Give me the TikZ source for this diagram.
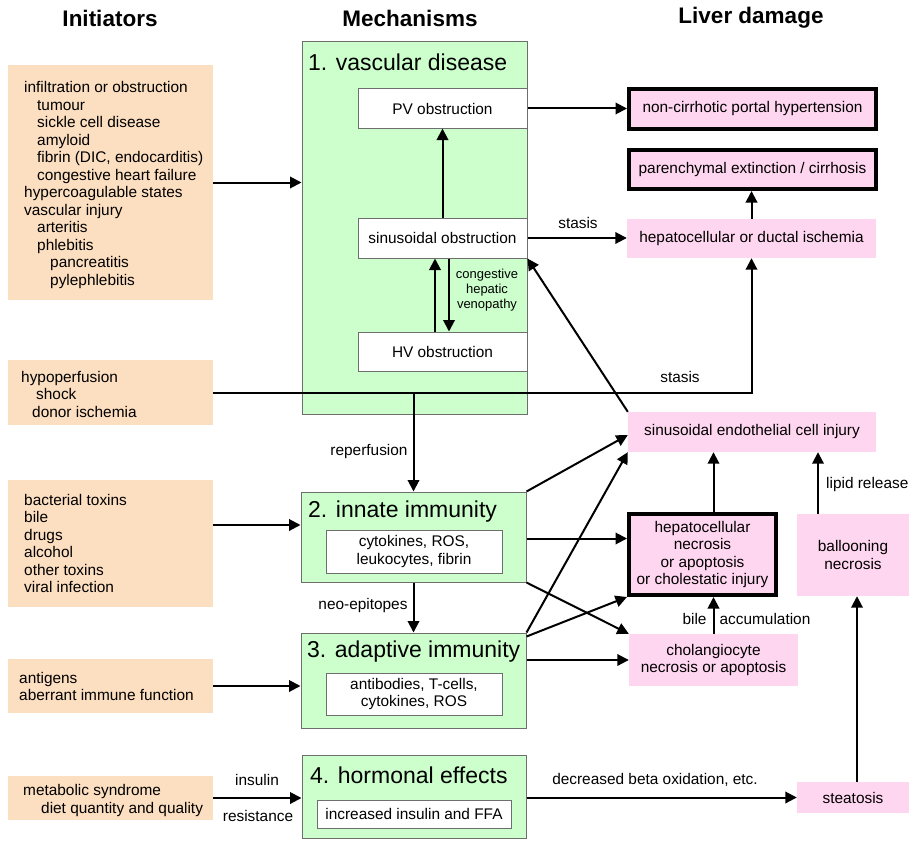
\documentclass[tikz,border=0pt]{standalone}
\usepackage{fontspec}
\setmainfont{Liberation Sans}
\usetikzlibrary{arrows.meta,calc}
\definecolor{orangefill}{RGB}{252,222,192}
\definecolor{greenfill}{RGB}{204,255,204}
\definecolor{pinkfill}{RGB}{255,214,240}
\definecolor{boxgray}{RGB}{110,110,110}
\begin{document}
\begin{tikzpicture}[x=1pt,y=-1pt,
  every node/.style={inner sep=0pt, font=\fontsize{15.4}{17.5}\selectfont},
  obox/.style={fill=orangefill, draw=none, rectangle},
  gbox/.style={fill=greenfill, draw=boxgray, line width=1pt, rectangle},
  wbox/.style={fill=white, draw=boxgray, line width=1pt, rectangle, align=center},
  pbox/.style={fill=pinkfill, rectangle, align=center},
  tbox/.style={fill=pinkfill, draw=black, line width=4pt, rectangle, align=center},
  arr/.style={line width=2pt, -{Triangle[length=11.5pt,width=11.5pt]}},
  ln/.style={line width=2pt},
  hdr/.style={font=\fontsize{22.5}{26}\selectfont\bfseries},
  ttl/.style={font=\fontsize{23}{27}\selectfont, anchor=west},
  smalllbl/.style={font=\fontsize{13}{15}\selectfont, align=center},
  itxt/.style={anchor=west, align=left},
]
\useasboundingbox (0,0) rectangle (909,840);

% headers
\node[hdr] (h1) at (110,18) {Initiators};
\node[hdr] (h2) at (410,18) {Mechanisms};
\node[hdr] (h3) at (751,18) {Liver damage};

% initiator boxes
\node[obox, minimum width=205pt, minimum height=235pt] (i1) at (110.5,182.5) {};
\node[itxt] (i1t) at (24,185) {infiltration or obstruction\\
\hspace*{13pt}tumour\\
\hspace*{13pt}sickle cell disease\\
\hspace*{13pt}amyloid\\
\hspace*{13pt}fibrin (DIC, endocarditis)\\
\hspace*{13pt}congestive heart failure\\
hypercoagulable states\\
vascular injury\\
\hspace*{13pt}arteritis\\
\hspace*{13pt}phlebitis\\
\hspace*{26pt}pancreatitis\\
\hspace*{26pt}pylephlebitis};

\node[obox, minimum width=205pt, minimum height=65pt] (i2) at (110.5,392.5) {};
\node[itxt] (i2t) at (21,394.3) {hypoperfusion\\
\hspace*{15pt}shock\\
\hspace*{11pt}donor ischemia};

\node[obox, minimum width=205pt, minimum height=127pt] (i3) at (110.5,543.5) {};
\node[itxt] (i3t) at (24,543.5) {bacterial toxins\\bile\\drugs\\alcohol\\other toxins\\viral infection};

\node[obox, minimum width=205pt, minimum height=54pt] (i4) at (110.5,686) {};
\node[itxt] (i4t) at (19,686.5) {antigens\\aberrant immune function};

\node[obox, minimum width=205pt, minimum height=44pt] (i5) at (110.5,798) {};
\node[itxt] (i5t) at (23,800.5) {metabolic syndrome\\\hspace*{18pt}diet quantity and quality};

% mechanism boxes
\node[gbox, minimum width=225pt, minimum height=372pt] (m1) at (414.5,228) {};
\node[ttl] (m1t) at (308,62) {1. vascular disease};
\node[wbox, minimum width=169pt, minimum height=39pt] (pv) at (442.5,108.5) {PV obstruction};
\node[wbox, minimum width=169pt, minimum height=40pt] (sin) at (442.5,238) {sinusoidal obstruction};
\node[wbox, minimum width=169pt, minimum height=39pt] (hv) at (442.5,351.5) {HV obstruction};

\node[gbox, minimum width=225pt, minimum height=90pt] (m2) at (413.5,537) {};
\node[ttl] (m2t) at (308,512) {2. innate immunity};
\node[wbox, minimum width=176pt, minimum height=43pt] (in2) at (414,551.5) {cytokines, ROS,\\leukocytes, fibrin};

\node[gbox, minimum width=225pt, minimum height=95pt] (m3) at (413.5,680.5) {};
\node[ttl] (m3t) at (307,652) {3. adaptive immunity};
\node[wbox, minimum width=176pt, minimum height=42pt] (in3) at (414,694) {antibodies, T-cells,\\cytokines, ROS};

\node[gbox, minimum width=224pt, minimum height=83pt] (m4) at (414,796.5) {};
\node[ttl] (m4t) at (310,775) {4. hormonal effects};
\node[wbox, minimum width=194pt, minimum height=28pt] (in4) at (414,814) {increased insulin and FFA};

% liver damage boxes
\node[tbox, minimum width=247pt, minimum height=40pt] (ncph) at (752.5,109) {non-cirrhotic portal hypertension};
\node[tbox, minimum width=247pt, minimum height=39pt] (pe) at (752.5,169.5) {parenchymal extinction / cirrhosis};
\node[pbox, minimum width=249pt, minimum height=39pt] (isch) at (751.5,238.5) {hepatocellular or ductal ischemia};
\node[pbox, minimum width=248pt, minimum height=40pt] (sec) at (752,432) {sinusoidal endothelial cell injury};
\node[tbox, minimum width=147pt, minimum height=81pt] (hep) at (702.5,554.5) {hepatocellular\\necrosis\\or apoptosis\\or cholestatic injury};
\node[pbox, minimum width=112pt, minimum height=82pt] (bal) at (853,555) {ballooning\\necrosis};
\node[pbox, minimum width=169pt, minimum height=52pt] (chol) at (713.5,660) {cholangiocyte\\necrosis or apoptosis};
\node[pbox, minimum width=112pt, minimum height=31pt] (ste) at (853,797.5) {steatosis};

% connectors
\draw[arr] (i1.east) -- (i1.east -| m1.west);
\draw[arr] (pv.east) -- (pv.east -| ncph.west);
\draw[arr] (sin.north) -- (pv.south);
\draw[arr] ([xshift=-7.5pt]hv.north) -- ([xshift=-7.5pt]sin.south);
\draw[arr] ([xshift=6.5pt]sin.south) -- ([xshift=6.5pt]hv.north);
\node[smalllbl] (chv) at (487,290) {congestive\\hepatic\\venopathy};
\draw[arr] (sin.east) -- (sin.east -| isch.west);
\node (st1) at (578,223) {stasis};
\draw[arr] (isch.north) -- (isch.north |- pe.south);
\draw[arr] (i2.east) -- (i2.east -| isch.south) -- (isch.south);
\node (st2) at (680,377) {stasis};
\coordinate (rj) at (i2.east -| m2.north);
\draw[arr] (rj) -- (m2.north);
\node (rep) at (369,452) {reperfusion};
\draw[arr] (sec.north west) -- (sin.south east);
\draw[arr] (m2.north east) -- ([yshift=-3pt]sec.west);
\draw[arr] (m3.north east) -- (sec.south west);
\draw[arr] ([yshift=18.5pt]i3.east) -- ([yshift=18.5pt]i3.east -| m2.west);
\draw[arr] ([yshift=-1.5pt]m2.east) -- ([yshift=-1.5pt]m2.east -| hep.west);
\draw[arr] (m2.south east) -- (chol.north west);
\draw[arr] (m2.south) -- (m2.south |- m3.north);
\node (neo) at (363,606) {neo-epitopes};
\draw[arr] ([yshift=-4pt]m3.north east) -- (hep.south west);
\draw[arr] (m3.east |- chol.west) -- (chol.west);
\draw[arr] (chol.north) -- (chol.north |- hep.south);
\node (bile) at (694.5,619) {bile};
\node (acc) at (765,619) {accumulation};
\draw[arr] (hep.north -| chol.north) -- (chol.north |- sec.south);
\draw[arr] ([xshift=-35pt]bal.north) -- ([xshift=-35pt]bal.north |- sec.south);
\node[anchor=west] (lip) at (826,485) {lipid release};
\draw[arr] (i4.east) -- (i4.east -| m3.west);
\draw[arr] (i5.east) -- (i5.east -| m4.west);
\node (ins) at (257,780) {insulin};
\node (res) at (258,816) {resistance};
\draw[arr] (m4.east |- ste.west) -- (ste.west);
\node (dbo) at (655,780) {decreased beta oxidation, etc.};
\draw[arr] ([xshift=4pt]ste.north) -- ([xshift=4pt]ste.north |- bal.south);
\end{tikzpicture}
\end{document}
